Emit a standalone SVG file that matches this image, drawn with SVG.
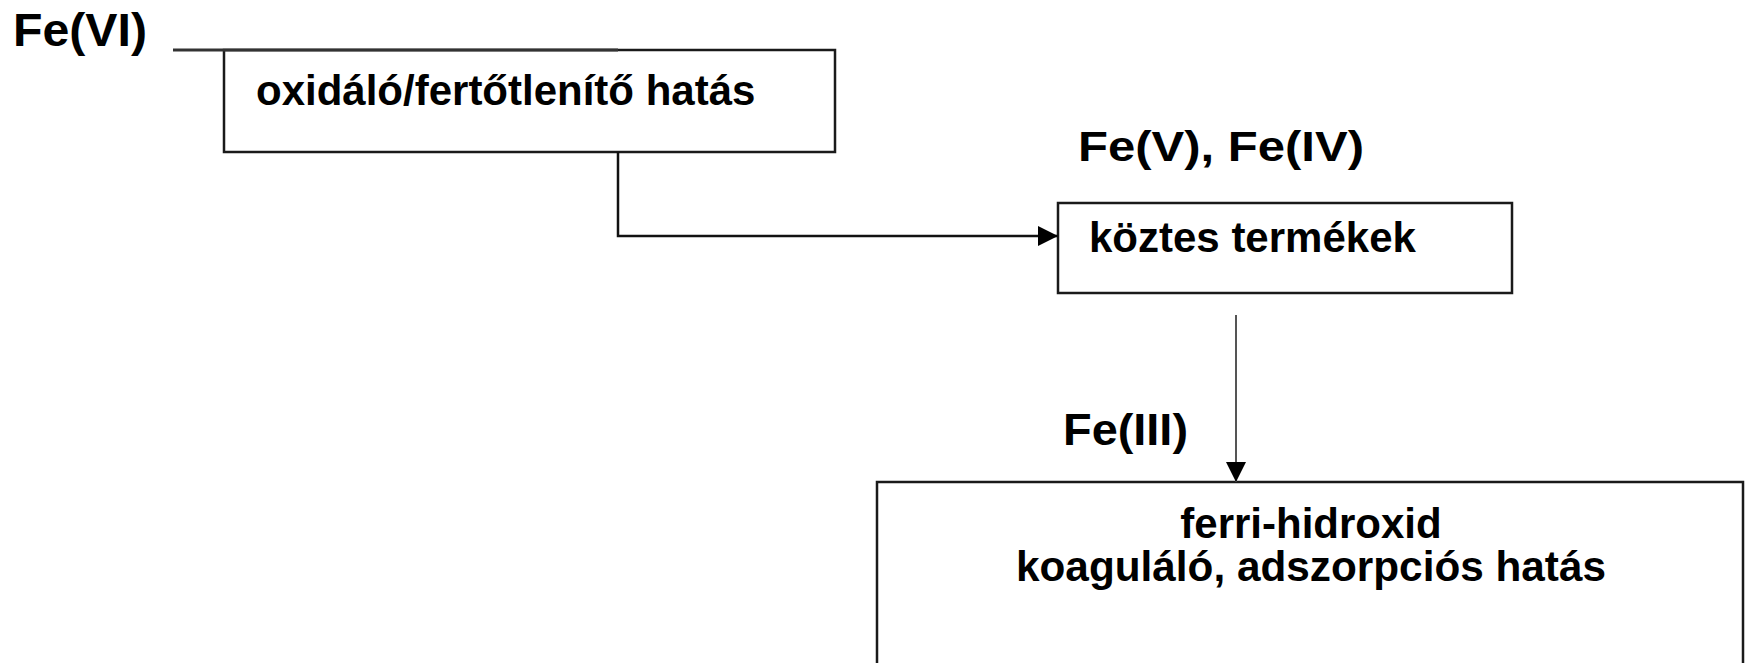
<svg xmlns="http://www.w3.org/2000/svg" width="1746" height="663" viewBox="0 0 1746 663">
<defs>
<style>
.t{font-family:"Liberation Sans",Arial,sans-serif;font-weight:bold;fill:#000}
.box{fill:#fff;stroke:#1a1a1a;stroke-width:2.5}
.conn{fill:none;stroke:#111;stroke-width:2.5}
.conn2{fill:none;stroke:#555;stroke-width:2}
</style>
<marker id="ah" markerUnits="userSpaceOnUse" markerWidth="22" markerHeight="22" refX="20" refY="11" orient="auto">
<path d="M0,1 L20,11 L0,21 Z" fill="#000"/>
</marker>
</defs>
<rect width="1746" height="663" fill="#fff"/>
<g id="fe6">
<text class="t" x="13" y="46" font-size="47" textLength="134" lengthAdjust="spacingAndGlyphs">Fe(VI)</text>
</g>
<g id="oxidalo">
<rect class="box" x="224" y="50" width="611" height="102"/>
<text class="t" x="256" y="105" font-size="42">oxidáló/fertőtlenítő hatás</text>
</g>
<g id="koztes">
<rect class="box" x="1058" y="203" width="454" height="90"/>
<text class="t" x="1089" y="252" font-size="42">köztes termékek</text>
</g>
<g id="fe54">
<text class="t" x="1078" y="161" font-size="42" textLength="286" lengthAdjust="spacingAndGlyphs">Fe(V), Fe(IV)</text>
</g>
<g id="fe3">
<text class="t" x="1063" y="445" font-size="45" textLength="125" lengthAdjust="spacingAndGlyphs">Fe(III)</text>
</g>
<g id="ferri">
<rect class="box" x="877" y="482" width="866" height="220"/>
<text class="t" x="1311" y="538" font-size="42" text-anchor="middle">ferri-hidroxid</text>
<text class="t" x="1311" y="581" font-size="42" text-anchor="middle" textLength="590" lengthAdjust="spacingAndGlyphs">koaguláló, adszorpciós hatás</text>
</g>
<g id="connectors">
<line x1="173" y1="50" x2="618" y2="50" stroke="#333" stroke-width="3"/>
<path class="conn" d="M618,152 V236 H1058" marker-end="url(#ah)"/>
<path class="conn2" d="M1236,315 V482" marker-end="url(#ah)"/>
</g>
</svg>
